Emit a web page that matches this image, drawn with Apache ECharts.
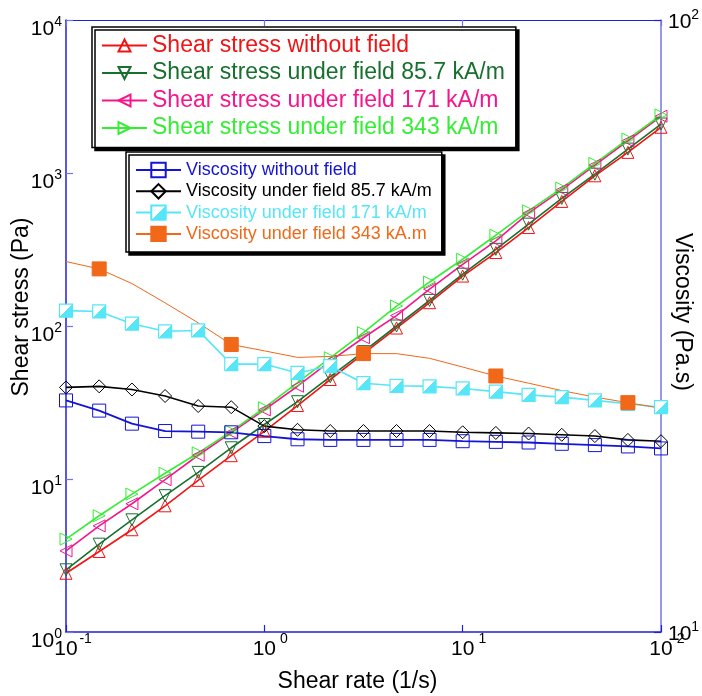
<!DOCTYPE html>
<html>
<head>
<meta charset="utf-8">
<script src="https://cdn.jsdelivr.net/npm/echarts@6/dist/echarts.min.js"></script>
<style>
  html, body { margin: 0; padding: 0; background: #fff; }
  #chart { width: 702px; height: 696px; }
</style>
</head>
<body>
<div id="chart"></div>
<script>
// Shear rate (1/s), six points per decade
const shearRate = [0.1, 0.147, 0.215, 0.316, 0.464, 0.681, 1, 1.47, 2.15, 3.16, 4.64, 6.81, 10, 14.7, 21.5, 31.6, 46.4, 68.1, 100];

// Shear stress (Pa)
const stressNoField = [2.42, 3.36, 4.66, 6.68, 9.8, 14.2, 20.5, 30.2, 44.7, 66, 97, 142, 212, 302, 440, 652, 959, 1364, 1990];
const stress857 = [2.55, 3.75, 5.41, 7.78, 11.05, 16.0, 22.7, 32.0, 46.6, 68, 100, 147, 218, 317, 463, 682, 982, 1433, 2090];
const stress171 = [3.39, 4.94, 6.89, 9.9, 14.3, 20.1, 28.3, 40.4, 58.9, 83.8, 117, 174, 253, 360, 546, 776, 1127, 1625, 2349];
const stress343 = [4.05, 5.75, 7.97, 10.9, 14.8, 20.5, 29.2, 42.6, 62, 90.4, 135, 194, 273, 392, 566, 797, 1155, 1667, 2394];

// Viscosity (Pa.s)
const viscNoField = [23.9, 23.0, 21.9, 21.3, 21.25, 21.2, 20.9, 20.65, 20.6, 20.6, 20.6, 20.6, 20.5, 20.45, 20.4, 20.3, 20.2, 20.1, 19.95];
const visc857 = [25.1, 25.2, 24.9, 24.3, 23.4, 23.3, 21.7, 21.4, 21.3, 21.3, 21.3, 21.3, 21.2, 21.15, 21.1, 21.0, 20.9, 20.6, 20.5];
const visc171 = [33.5, 33.4, 31.9, 31.0, 31.1, 27.4, 27.4, 26.5, 27.2, 25.5, 25.25, 25.2, 25.0, 24.7, 24.4, 24.2, 23.9, 23.6, 23.3];
const visc343 = [40.3, 39.2, 37.1, 34.5, 32.0, 29.5, 28.8, 28.1, 28.2, 28.5, 28.5, 28.0, 27.1, 26.2, 25.5, 24.8, 24.2, 23.7, 23.2];
// points of the 343 kA/m viscosity curve that carry a marker
const visc343Markers = [1, 5, 9, 13, 17];

// Axis ranges (decades)
const xRange = [0.1, 100];
const stressRange = [1, 10000];
const viscRange = [10, 100];

const stressNames = [
  'Shear stress without field',
  'Shear stress under field 85.7 kA/m',
  'Shear stress under field 171 kA/m',
  'Shear stress under field 343 kA/m'
];
const viscNames = [
  'Viscosity without field',
  'Viscosity under field 85.7 kA/m',
  'Viscosity under field 171 kA/m',
  'Viscosity under field 343 kA.m'
];

const C = {
  red: '#f01414',
  dkgreen: '#17702e',
  pink: '#f5168c',
  green: '#33ee33',
  blue: '#1414d6',
  black: '#000000',
  cyan: '#55e6f7',
  orange: '#f06818',
  axis: '#2020dc',
  axisLight: '#7474e6'
};

const FONT = '"Liberation Sans", Arial, Helvetica, sans-serif';

const pairs = (ys) => shearRate.map((x, i) => [x, ys[i]]);
const exp10 = (v) => Math.round(Math.log10(v));
const powerLabel = (v) => '{b|10}{e|' + exp10(v) + '}';

const hollow = (color) => ({ color: 'rgba(0,0,0,0)', borderColor: color, borderWidth: 1 });

function stressSeries(name, ys, color, rotate) {
  return {
    name, type: 'line', xAxisIndex: 0, yAxisIndex: 0,
    data: pairs(ys),
    symbol: 'triangle', symbolSize: 12, symbolRotate: rotate,
    lineStyle: { color, width: 1.6 },
    itemStyle: hollow(color),
    emphasis: { disabled: true }
  };
}

// square marker: upper-left half white, lower-right half cyan
const halfFill = new echarts.graphic.LinearGradient(0, 0, 1, 1, [
  { offset: 0, color: '#ffffff' },
  { offset: 0.5, color: '#ffffff' },
  { offset: 0.5, color: C.cyan },
  { offset: 1, color: C.cyan }
]);

const series = [
  stressSeries(stressNames[0], stressNoField, C.red, 0),
  stressSeries(stressNames[1], stress857, C.dkgreen, 180),
  stressSeries(stressNames[2], stress171, C.pink, 90),
  stressSeries(stressNames[3], stress343, C.green, -90),
  {
    name: viscNames[0], type: 'line', xAxisIndex: 0, yAxisIndex: 1,
    data: pairs(viscNoField),
    symbol: 'rect', symbolSize: 13,
    lineStyle: { color: C.blue, width: 1.8 },
    itemStyle: hollow(C.blue),
    emphasis: { disabled: true }
  },
  {
    name: viscNames[1], type: 'line', xAxisIndex: 0, yAxisIndex: 1,
    data: pairs(visc857),
    symbol: 'diamond', symbolSize: 13,
    lineStyle: { color: C.black, width: 1.6 },
    itemStyle: hollow(C.black),
    emphasis: { disabled: true }
  },
  {
    name: viscNames[2], type: 'line', xAxisIndex: 0, yAxisIndex: 1,
    data: pairs(visc171),
    symbol: 'rect', symbolSize: 13,
    lineStyle: { color: C.cyan, width: 1.6 },
    itemStyle: { color: halfFill, borderColor: C.cyan, borderWidth: 1.2 },
    emphasis: { disabled: true }
  },
  {
    name: viscNames[3], type: 'line', xAxisIndex: 0, yAxisIndex: 1,
    data: shearRate.map((x, i) => ({
      value: [x, visc343[i]],
      symbol: visc343Markers.includes(i) ? 'rect' : 'none'
    })),
    symbol: 'rect', symbolSize: 14,
    lineStyle: { color: C.orange, width: 1 },
    itemStyle: { color: C.orange, borderColor: C.orange, borderWidth: 1 },
    emphasis: { disabled: true }
  }
];

const legendBox = {
  orient: 'vertical',
  backgroundColor: '#ffffff',
  borderColor: '#000000',
  borderWidth: 1.5,
  borderRadius: 0,
  shadowColor: '#000000',
  shadowBlur: 0,
  shadowOffsetX: 3,
  shadowOffsetY: 3,
  itemWidth: 45,
  selectedMode: false
};

const stressColors = [C.red, C.dkgreen, C.pink, C.green];
const viscColors = [C.blue, C.black, C.cyan, C.orange];

// "10" with a raised exponent
const supRich = (padTop, padLeft, expWidth) => {
  const e = { fontSize: 14, lineHeight: 10, padding: [0, 0, 10, 0], fontFamily: FONT, color: '#000' };
  if (expWidth) { e.width = expWidth; e.align = 'left'; }
  return {
    b: { fontSize: 21, lineHeight: 16, padding: [padTop, 0, 0, padLeft], fontFamily: FONT, color: '#000' },
    e
  };
};

const nameStyle = (pad) => ({ fontSize: 23, color: '#000', fontFamily: FONT, padding: pad });

const option = {
  animation: false,
  backgroundColor: '#ffffff',
  textStyle: { fontFamily: FONT },
  grid: { left: 66, right: 41, top: 20, bottom: 64, outerBoundsMode: 'none' },
  legend: [
    Object.assign({}, legendBox, {
      left: 92, top: 27, z: 20,
      padding: [7, 11, 8, 9],
      itemGap: 4.5, itemHeight: 15,
      textStyle: { fontSize: 23, lineHeight: 23, fontFamily: FONT },
      data: stressNames.map((n, i) => ({ name: n, textStyle: { color: stressColors[i] } }))
    }),
    Object.assign({}, legendBox, {
      left: 126, top: 152, z: 19,
      padding: [9, 10, 9, 9],
      itemGap: 3.3, itemHeight: 18,
      textStyle: { fontSize: 18, lineHeight: 18, fontFamily: FONT },
      data: viscNames.map((n, i) => ({ name: n, textStyle: { color: viscColors[i] } }))
    })
  ],
  xAxis: [
    {
      type: 'log', logBase: 10, min: xRange[0], max: xRange[1], position: 'bottom',
      name: 'Shear rate (1/s)', nameLocation: 'middle', nameGap: 38, nameMoveOverlap: false,
      nameTextStyle: nameStyle([0, 12, 0, 0]),
      axisLine: { lineStyle: { color: C.axis, width: 1.5 } },
      axisTick: { inside: true, length: 7, lineStyle: { color: C.axis, width: 1.2 } },
      axisLabel: { margin: 4, formatter: powerLabel, rich: supRich(10, 16, 16) },
      splitLine: { show: false }, minorTick: { show: false }
    },
    {
      type: 'log', logBase: 10, min: xRange[0], max: xRange[1], position: 'top',
      axisLine: { lineStyle: { color: C.axis, width: 1.2 } },
      axisTick: { inside: true, length: 6, lineStyle: { color: C.axisLight, width: 1.2 } },
      axisLabel: { show: false },
      splitLine: { show: false }
    }
  ],
  yAxis: [
    {
      type: 'log', logBase: 10, min: stressRange[0], max: stressRange[1], position: 'left',
      name: 'Shear stress (Pa)', nameLocation: 'middle', nameGap: 33, nameRotate: 90, nameMoveOverlap: false,
      nameTextStyle: nameStyle([0, 0, 0, 38]),
      axisLine: { lineStyle: { color: C.axis, width: 1.5 } },
      axisTick: { inside: true, length: 7, lineStyle: { color: C.axisLight, width: 1.2 } },
      axisLabel: { margin: 4, padding: [14, 0, 0, 0], formatter: powerLabel, rich: supRich(4, 0) },
      splitLine: { show: false }
    },
    {
      type: 'log', logBase: 10, min: viscRange[0], max: viscRange[1], position: 'right',
      name: 'Viscosity (Pa.s)', nameLocation: 'middle', nameGap: 10, nameRotate: -90, nameMoveOverlap: false,
      nameTextStyle: nameStyle([0, 28, 0, 0]),
      axisLine: { lineStyle: { color: C.axisLight, width: 1.5 } },
      axisTick: { inside: true, length: 7, lineStyle: { color: C.axis, width: 1.2 } },
      axisLabel: { margin: 7, formatter: powerLabel, rich: supRich(4, 0) },
      splitLine: { show: false }
    }
  ],
  series
};

const chart = echarts.init(document.getElementById('chart'), null, { renderer: 'canvas' });
chart.setOption(option);
</script>
</body>
</html>
